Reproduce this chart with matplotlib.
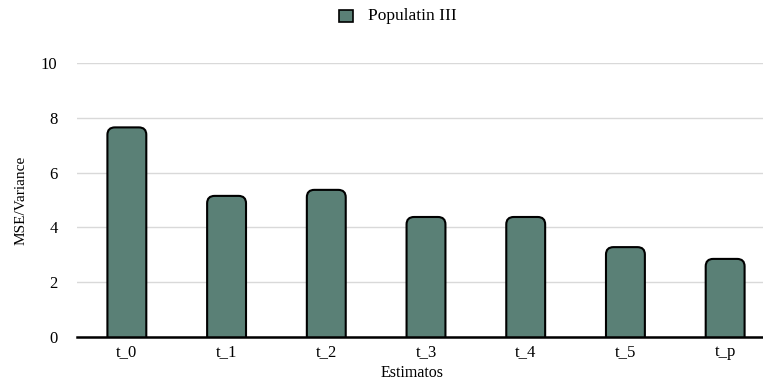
import matplotlib.pyplot as plt
from matplotlib.patches import FancyBboxPatch, Rectangle

estimators = ['t_0', 't_1', 't_2', 't_3', 't_4', 't_5', 't_p']
values = [7.65, 5.15, 5.37, 4.38, 4.38, 3.28, 2.85]
yticks = [0, 2, 4, 6, 8, 10]

plt.rcParams['font.family'] = ['Liberation Serif', 'DejaVu Serif']
fill = '#5a8076'

fig = plt.figure(figsize=(7.63, 3.82), dpi=100)
ax = fig.add_axes([77 / 763, 45 / 382, 698 / 763, 274 / 382])

bars = ax.bar(range(len(estimators)), values, width=0.39, color='none')
for b in bars:
    x, w, h = b.get_x(), b.get_width(), b.get_height()
    ax.add_patch(FancyBboxPatch((x, -0.6), w, h + 0.6,
                                boxstyle='round,pad=0,rounding_size=0.075',
                                mutation_aspect=3.6, facecolor=fill,
                                edgecolor='black', linewidth=1.5, zorder=3))
    b.remove()

ax.set_xlim(-0.5, len(estimators) - 0.5)
ax.set_ylim(0, 10)
ax.set_yticks(yticks)
ax.set_xticks(range(len(estimators)))
ax.set_xticklabels(estimators)
ax.grid(axis='y', color='#d9d9d9', linewidth=1)
ax.set_axisbelow(True)
for s in ['top', 'right', 'left']:
    ax.spines[s].set_visible(False)
ax.spines['bottom'].set_linewidth(1.8)
ax.spines['bottom'].set_zorder(4)
ax.tick_params(length=0, labelsize=12)
ax.tick_params(axis='x', pad=5)
ax.tick_params(axis='y', pad=14)

fig.text(21 / 763, 1 - 200 / 382, 'MSE/Variance', fontsize=11, rotation=90,
         ha='center', va='center')
fig.text(412 / 763, 1 - 373 / 382, 'Estimatos', fontsize=11.5, ha='center', va='center')

# legend
fig.patches.append(Rectangle((339 / 763, 1 - 22 / 382), 14 / 763, 12 / 382,
                             transform=fig.transFigure, facecolor=fill,
                             edgecolor='black', linewidth=1.2))
fig.text(368 / 763, 1 - 16 / 382, 'Populatin III', fontsize=12.5,
         ha='left', va='center', color='black')

plt.savefig('out.png', dpi=100)
